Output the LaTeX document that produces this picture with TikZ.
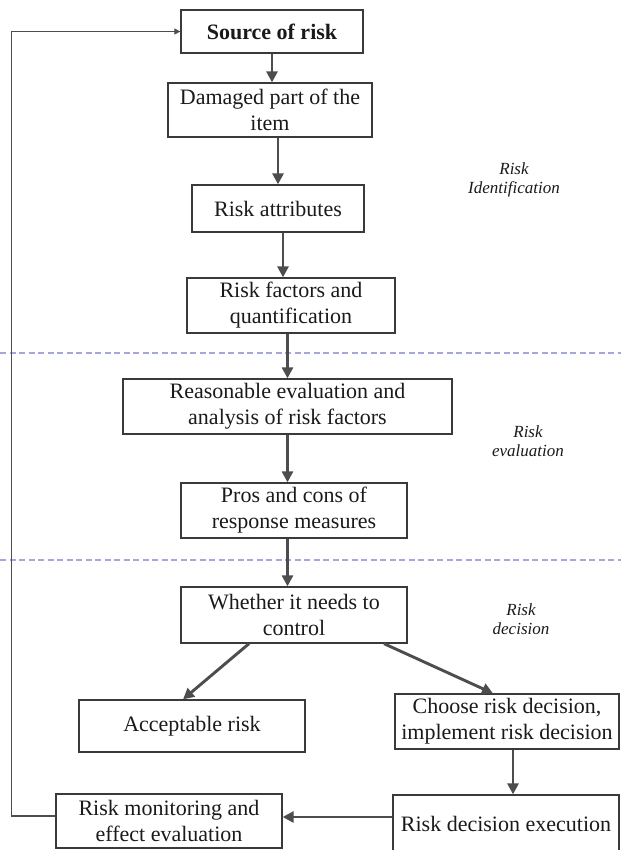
\documentclass[tikz,border=0pt]{standalone}
\usepackage{fontspec}
\setmainfont{Liberation Serif}
\usetikzlibrary{arrows.meta}
\definecolor{boxgray}{HTML}{3A3A3A}
\definecolor{arrowgray}{HTML}{4D4D4D}
\definecolor{dashlav}{HTML}{A6A6DE}
\definecolor{txt}{HTML}{1A1A1A}
\begin{document}
\begin{tikzpicture}[x=1pt,y=-1pt,
  box/.style={draw=boxgray, line width=1.3pt, inner sep=0pt, align=center,
    font=\fontsize{22}{26}\selectfont, text=txt},
  flow/.style={draw=arrowgray, line width=2.9pt, -{Triangle[length=11pt,width=11pt]}},
  fb/.style={draw=arrowgray, line width=1.2pt, -{Triangle[length=6pt,width=6pt]}},
  sep/.style={draw=dashlav, line width=1.2pt, dash pattern=on 6pt off 3.5pt},
  phase/.style={align=center, font=\fontsize{17}{19}\selectfont\itshape, text=txt}]
\useasboundingbox (0,0) rectangle (621,850);

% separators
\draw[sep] (0,353) -- (621,353);
\draw[sep] (0,560) -- (621,560);

% boxes
\node[box, minimum width=182, minimum height=43] (src) at (272,31.5) {\textbf{Source of risk}};
\node[box, minimum width=204, minimum height=54] (dmg) at (270,110) {Damaged part of the\\item};
\node[box, minimum width=172, minimum height=47] (attr) at (278,208.5) {Risk attributes};
\node[box, minimum width=208, minimum height=55] (fact) at (291,305.5) {Risk factors and\\quantification};
\node[box, minimum width=329, minimum height=55] (reas) at (287.5,406.5) {Reasonable evaluation and\\analysis of risk factors};
\node[box, minimum width=226, minimum height=55] (pros) at (294,510.5) {Pros and cons of\\response measures};
\node[box, minimum width=226, minimum height=56] (whe) at (294,615) {Whether it needs to\\control};
\node[box, minimum width=226, minimum height=52] (acc) at (192,726) {Acceptable risk};
\node[box, minimum width=224, minimum height=55] (cho) at (507,721.5) {Choose risk decision,\\implement risk decision};
\node[box, minimum width=226, minimum height=57] (exe) at (506,823.5) {Risk decision execution};
\node[box, minimum width=226, minimum height=54] (mon) at (169,821) {Risk monitoring and\\effect evaluation};

% phase labels
\node[phase] (lid) at (514,180) {Risk\\Identification};
\node[phase] (lev) at (528,441) {Risk\\evaluation};
\node[phase] (lde) at (521,619) {Risk\\decision};

% flow arrows
\draw[flow] (src.south) -- (src.south |- dmg.north);
\draw[flow] (attr.north |- dmg.south) -- (attr.north);
\draw[flow] ([xshift=5pt]attr.south) -- ([xshift=5pt]attr.south |- fact.north);
\draw[flow] (reas.north |- fact.south) -- (reas.north);
\draw[flow] (reas.south) -- (reas.south |- pros.north);
\draw[flow] (reas.south |- pros.south) -- (reas.south |- whe.north);
\draw[flow] ([xshift=-45pt]whe.south) -- ([xshift=-9pt]acc.north);
\draw[flow] ([xshift=90pt]whe.south) -- ([xshift=-14pt]cho.north);
\draw[flow] ([xshift=6pt]cho.south) -- ([xshift=6pt]cho.south |- exe.north);
\draw[flow] ([yshift=6.5pt]exe.west) -- ([yshift=6.5pt]exe.west -| mon.east);

% feedback loop
\draw[fb] ([yshift=5pt]mon.west) -- ++(-44,0) |- (src.west);
\end{tikzpicture}
\end{document}
